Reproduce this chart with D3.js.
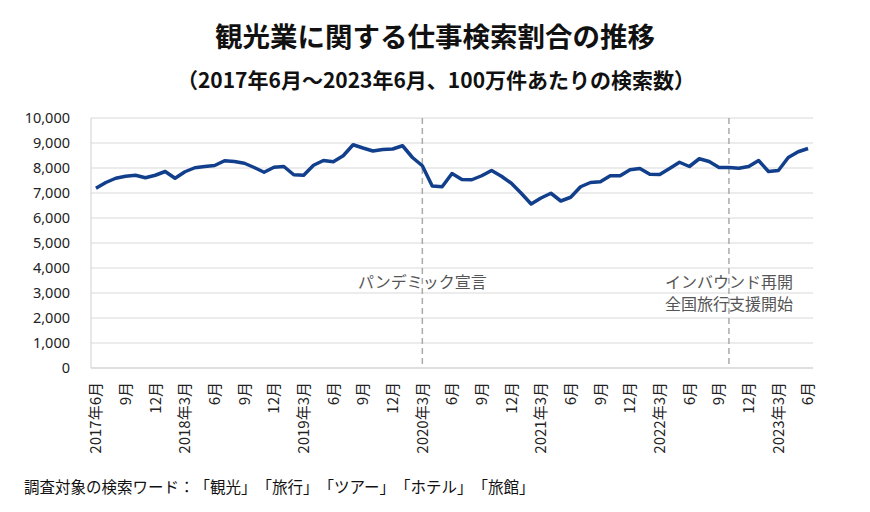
<!DOCTYPE html>
<html>
<head>
<meta charset="utf-8">
<script src="https://cdn.jsdelivr.net/npm/d3@7"></script>
<style>
    body { margin: 0; background: #fff; }
    text { font-family: "Noto Sans CJK JP", "Noto Sans", sans-serif; text-spacing-trim: space-all; }
</style>
</head>
<body>
<div id="chart"></div>
<script>
// 2017年6月 〜 2023年6月（月次）
var start_year = 2017;
var start_month = 6;
var values = [
    7190, 7420, 7590, 7670, 7710, 7610, 7710, 7860, 7590, 7850,
    8010, 8060, 8100, 8290, 8260, 8190, 8020, 7830, 8030, 8060,
    7730, 7710, 8110, 8300, 8250, 8490, 8930, 8800, 8680, 8740,
    8760, 8890, 8420, 8090, 7280, 7250, 7780, 7540, 7530, 7690,
    7900, 7670, 7390, 6990, 6560, 6800, 6990, 6680, 6830, 7250,
    7420, 7450, 7690, 7690, 7930, 7980, 7750, 7740, 7980, 8230,
    8060, 8370, 8260, 8020, 8020, 7990, 8060, 8300, 7860, 7900,
    8420, 8650, 8780
];
var y_ticks = [0, 1000, 2000, 3000, 4000, 5000, 6000, 7000, 8000, 9000, 10000];
var events = [
    { index: 33, lines: ['パンデミック宣言'] },
    { index: 64, lines: ['インバウンド再開', '全国旅行支援開始'] }
];
var title = '観光業に関する仕事検索割合の推移';
var subtitle = '（2017年6月～2023年6月、100万件あたりの検索数）';
var note = '調査対象の検索ワード：「観光」「旅行」「ツアー」「ホテル」「旅館」';

var chart_width = 870;
var chart_height = 512;
var plot = { left: 91, right: 813, top: 118, bottom: 368 };

var data = values.map(function (v, i) {
    var m = start_month - 1 + i;
    return { i: i, year: start_year + Math.floor(m / 12), month: (m % 12) + 1, num: v };
});

var svg = d3.select('#chart')
    .append('svg')
    .attr('width', chart_width)
    .attr('height', chart_height);

var x_scale = d3.scalePoint()
    .domain(data.map(function (d) { return d.i; }))
    .range([plot.left, plot.right])
    .padding(0.5);

var y_scale = d3.scaleLinear()
    .domain([0, 10000])
    .range([plot.bottom, plot.top]);

// タイトル
svg.append('text')
    .attr('x', 435).attr('y', 47)
    .attr('text-anchor', 'middle')
    .attr('font-size', 27.5).attr('font-weight', 'bold')
    .attr('fill', '#111')
    .text(title);

svg.append('text')
    .attr('x', 436).attr('y', 88)
    .attr('text-anchor', 'middle')
    .attr('font-size', 21).attr('font-weight', 'bold')
    .attr('fill', '#111')
    .text(subtitle);

// グリッド
svg.append('g')
    .selectAll('line')
    .data(y_ticks)
    .enter()
    .append('line')
    .attr('x1', plot.left).attr('x2', plot.right)
    .attr('y1', function (d) { return y_scale(d); })
    .attr('y2', function (d) { return y_scale(d); })
    .attr('stroke', function (d) { return d === 0 ? '#bfbfbf' : '#d9d9d9'; })
    .attr('stroke-width', 1);

svg.append('line')
    .attr('x1', plot.left).attr('x2', plot.left)
    .attr('y1', plot.top).attr('y2', plot.bottom)
    .attr('stroke', '#d0d0d0');

// Y軸
var y_axis = d3.axisLeft(y_scale)
    .tickValues(y_ticks)
    .tickFormat(d3.format(','))
    .tickSize(0)
    .tickPadding(21);

svg.append('g')
    .attr('transform', 'translate(' + plot.left + ',0)')
    .call(y_axis)
    .call(function (g) { g.select('.domain').remove(); })
    .selectAll('text')
    .attr('font-size', 14.5)
    .attr('fill', '#222')
    .style('font-family', '"Noto Sans", sans-serif');

// X軸ラベル
svg.append('g')
    .selectAll('text')
    .data(data.filter(function (d) { return d.i % 3 === 0; }))
    .enter()
    .append('text')
    .attr('transform', function (d) {
        return 'translate(' + x_scale(d.i) + ',382) rotate(-90)';
    })
    .attr('dy', '0.35em')
    .attr('text-anchor', 'end')
    .attr('font-size', 15)
    .attr('fill', '#222')
    .text(function (d) {
        if (d.i === 0 || d.month === 3) return d.year + '年' + d.month + '月';
        return d.month + '月';
    });

// イベント線
svg.append('g')
    .selectAll('line')
    .data(events)
    .enter()
    .append('line')
    .attr('x1', function (d) { return x_scale(d.index); })
    .attr('x2', function (d) { return x_scale(d.index); })
    .attr('y1', plot.top).attr('y2', plot.bottom)
    .attr('stroke', '#aaaaaa')
    .attr('stroke-width', 1.5)
    .attr('stroke-dasharray', '6,4');

events.forEach(function (e) {
    e.lines.forEach(function (t, k) {
        svg.append('text')
            .attr('x', x_scale(e.index))
            .attr('y', 288 + k * 22)
            .attr('text-anchor', 'middle')
            .attr('font-size', 16)
            .attr('fill', '#555')
            .text(t);
    });
});

// 折れ線
var line = d3.line()
    .x(function (d) { return x_scale(d.i); })
    .y(function (d) { return y_scale(d.num); });

svg.append('path')
    .datum(data)
    .attr('d', line)
    .attr('fill', 'none')
    .attr('stroke', '#123f8c')
    .attr('stroke-width', 3.5)
    .attr('stroke-linejoin', 'round');

svg.append('text')
    .attr('x', 24).attr('y', 493)
    .attr('font-size', 15.5)
    .attr('fill', '#111')
    .text(note);
</script>
</body>
</html>
